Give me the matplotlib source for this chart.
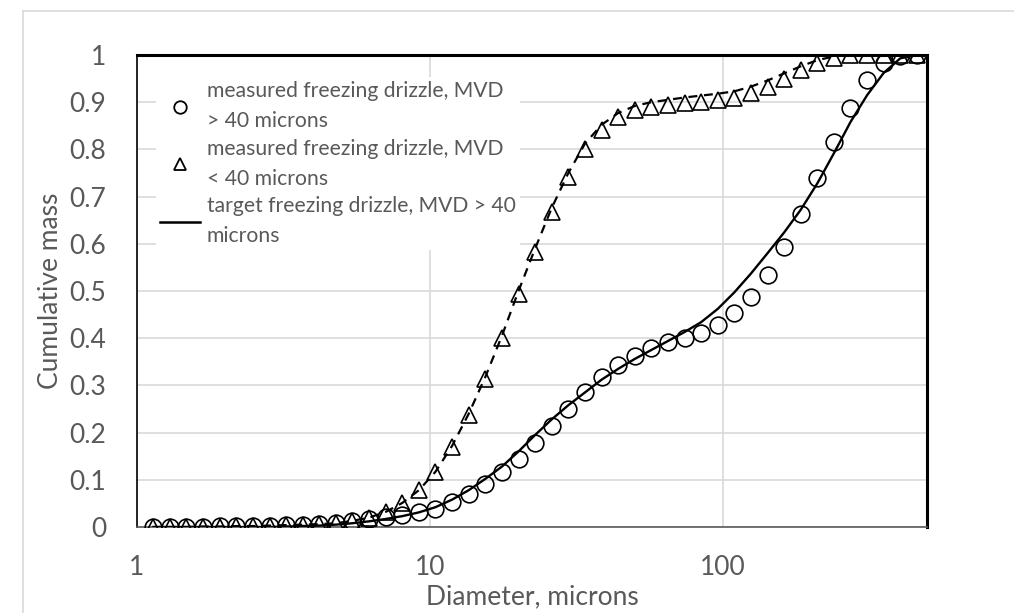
import matplotlib
matplotlib.use("Agg")
import matplotlib.pyplot as plt
from matplotlib.lines import Line2D

# ---------------- data ----------------
diameter = [1.137, 1.295, 1.475, 1.681, 1.915, 2.182, 2.486, 2.833, 3.228, 3.678,
            4.190, 4.774, 5.439, 6.197, 7.061, 8.045, 9.166, 10.44, 11.90, 13.56,
            15.45, 17.60, 20.05, 22.85, 26.03, 29.66, 33.79, 38.50, 43.87, 49.97,
            56.94, 64.88, 73.91, 84.22, 95.94, 109.3, 124.6, 141.9, 161.7, 184.2,
            209.9, 239.2, 272.4, 310.5, 353.6, 403.0, 459.2]

measured_gt40 = [0.000, 0.000, 0.001, 0.001, 0.002, 0.002, 0.003, 0.003, 0.004, 0.005,
                 0.006, 0.008, 0.012, 0.016, 0.021, 0.026, 0.031, 0.039, 0.052, 0.069,
                 0.091, 0.116, 0.145, 0.178, 0.213, 0.251, 0.286, 0.317, 0.343, 0.363,
                 0.379, 0.391, 0.401, 0.411, 0.428, 0.453, 0.488, 0.534, 0.594, 0.663,
                 0.739, 0.816, 0.888, 0.946, 0.982, 0.998, 1.000]

measured_lt40 = [0.000, 0.000, 0.000, 0.001, 0.001, 0.002, 0.002, 0.003, 0.004, 0.005,
                 0.006, 0.008, 0.013, 0.020, 0.032, 0.051, 0.078, 0.117, 0.170, 0.237,
                 0.313, 0.400, 0.494, 0.583, 0.668, 0.741, 0.801, 0.841, 0.868, 0.883,
                 0.890, 0.894, 0.898, 0.901, 0.905, 0.908, 0.919, 0.933, 0.949, 0.968,
                 0.983, 0.994, 1.000, 1.000, 1.000, 1.000, 1.000]

target_lt40 = [0.000, 0.000, 0.000, 0.001, 0.001, 0.002, 0.002, 0.003, 0.004, 0.005,
               0.006, 0.008, 0.013, 0.020, 0.032, 0.051, 0.078, 0.117, 0.172, 0.240,
               0.318, 0.405, 0.500, 0.590, 0.676, 0.750, 0.812, 0.852, 0.877, 0.892,
               0.900, 0.905, 0.910, 0.914, 0.918, 0.923, 0.933, 0.946, 0.961, 0.976,
               0.989, 0.997, 1.000, 1.000, 1.000, 1.000, 1.000]

target_gt40 = [0.000, 0.000, 0.000, 0.000, 0.000, 0.000, 0.000, 0.000, 0.001, 0.002,
               0.003, 0.005, 0.008, 0.012, 0.017, 0.023, 0.031, 0.042, 0.058, 0.078,
               0.102, 0.128, 0.160, 0.195, 0.228, 0.258, 0.285, 0.312, 0.335, 0.356,
               0.375, 0.394, 0.413, 0.434, 0.462, 0.497, 0.537, 0.580, 0.624, 0.672,
               0.728, 0.792, 0.858, 0.915, 0.962, 0.993, 1.000]

legend_labels = ["measured freezing drizzle, MVD\n> 40 microns",
                 "measured freezing drizzle, MVD\n< 40 microns",
                 "target freezing drizzle, MVD > 40\nmicrons"]

x_ticks = [1, 10, 100]
x_ticklabels = ["1", "10", "100"]
y_ticks = [0, 0.1, 0.2, 0.3, 0.4, 0.5, 0.6, 0.7, 0.8, 0.9, 1.0]
y_ticklabels = ["0", "0.1", "0.2", "0.3", "0.4", "0.5", "0.6", "0.7", "0.8", "0.9", "1"]

# ---------------- figure ----------------
plt.rcParams['font.family'] = ['Lato', 'DejaVu Sans']
W, H = 1014, 613
fig = plt.figure(figsize=(W / 100, H / 100), dpi=100)
ax = fig.add_axes([137 / W, 1 - 527 / H, (927 - 137) / W, (527 - 55) / H])

grey_text = '#595959'

ax.plot(diameter, target_gt40, color='black', lw=1.7, zorder=3)
ax.plot(diameter, target_lt40, color='black', lw=1.6, ls=(0, (4, 3)), zorder=3)
ax.plot(diameter, measured_lt40, ls='none', marker='^', ms=11.5, mfc='none',
        mec='black', mew=1.2, zorder=4)
ax.plot(diameter, measured_gt40, ls='none', marker='o', ms=12, mfc='none',
        mec='black', mew=1.2, zorder=4)

ax.set_xscale('log')
ax.set_xlim(1, 497)
ax.set_ylim(0, 1)
ax.set_xticks(x_ticks)
ax.set_xticklabels(x_ticklabels)
ax.xaxis.set_minor_locator(matplotlib.ticker.NullLocator())
ax.set_yticks(y_ticks)
ax.set_yticklabels(y_ticklabels)
ax.tick_params(axis='both', length=0, labelsize=19, colors=grey_text)
ax.tick_params(axis='x', pad=20)
ax.tick_params(axis='y', pad=22)
ax.grid(True, color='#d9d9d9', lw=1.2, zorder=0)
ax.set_axisbelow(True)

ax.spines['top'].set_color('black')
ax.spines['top'].set_linewidth(2.2)
ax.spines['right'].set_color('black')
ax.spines['right'].set_linewidth(2.2)
ax.spines['left'].set_color('black')
ax.spines['left'].set_linewidth(1.2)
ax.spines['bottom'].set_color('#595959')
ax.spines['bottom'].set_linewidth(1.2)

ax.set_xlabel("Diameter, microns", fontsize=19, color=grey_text, labelpad=3)
ax.set_ylabel("Cumulative mass", fontsize=19, color=grey_text, labelpad=5)

handles = [
    Line2D([], [], ls='none', marker='o', ms=9, mfc='none', mec='black', mew=1.3),
    Line2D([], [], ls='none', marker='^', ms=9, mfc='none', mec='black', mew=1.3),
    Line2D([], [], color='black', lw=1.8),
]
leg = ax.legend(handles, legend_labels, loc='upper left',
                bbox_to_anchor=((156 - 137) / 790, 1 - (77 - 55) / 472),
                fontsize=15.2, borderaxespad=0,
                frameon=True, facecolor='white', edgecolor='none', framealpha=1,
                handlelength=1.9, handletextpad=0.3, labelspacing=0.36,
                borderpad=0.2, fancybox=False)
for t in leg.get_texts():
    t.set_color(grey_text)
    t.set_linespacing(1.62)
leg.set_zorder(5)

# outer frame remnants of the original page
fig.add_artist(Line2D([23 / W, 23 / W], [0, 1 - 11 / H], color='#d9d9d9', lw=1.2))
fig.add_artist(Line2D([23 / W, 1], [1 - 11 / H, 1 - 11 / H], color='#d9d9d9', lw=1.2))

fig.savefig("out.png", dpi=100, facecolor='white')
